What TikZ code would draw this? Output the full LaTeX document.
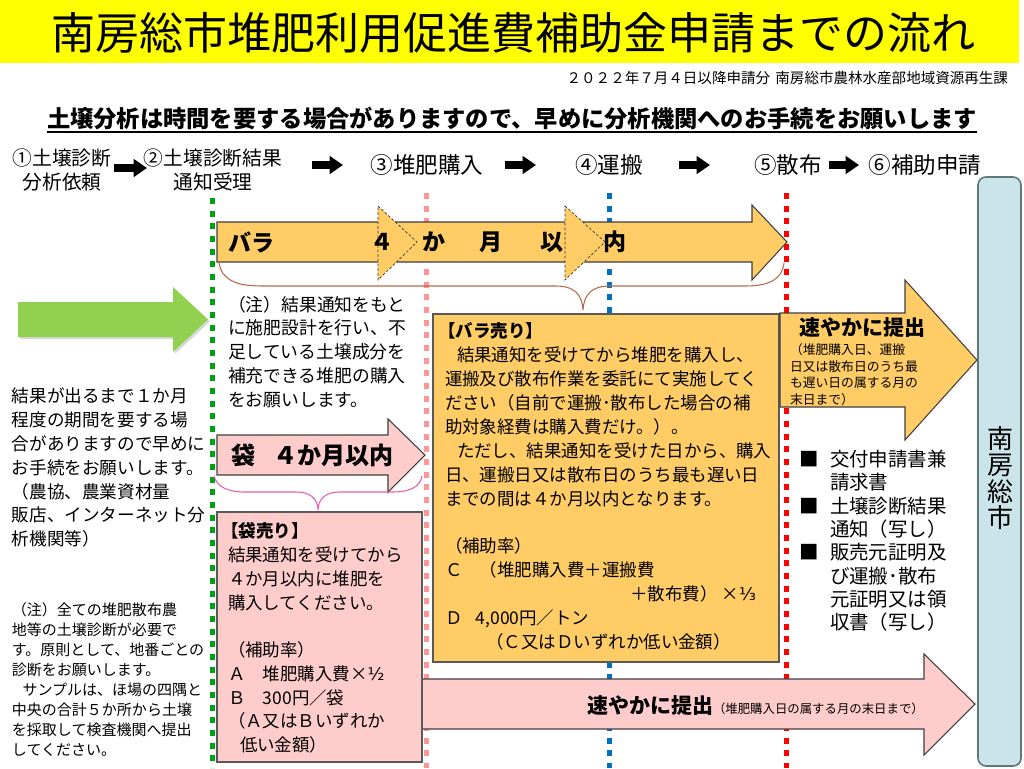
\documentclass[tikz,border=0pt]{standalone}
\usepackage{fontspec}
\setmainfont{Noto Sans CJK JP}
\newfontfamily\dvs{DejaVu Sans}
\usetikzlibrary{arrows.meta,shadows}
\definecolor{banner}{RGB}{255,255,0}
\definecolor{barafill}{RGB}{255,204,102}
\definecolor{fukurofill}{RGB}{255,204,204}
\definecolor{greenarr}{RGB}{146,208,80}
\definecolor{edge}{RGB}{64,64,64}
\definecolor{boxedge}{RGB}{89,89,89}
\definecolor{dotgreen}{RGB}{0,160,20}
\definecolor{dotpink}{RGB}{255,150,150}
\definecolor{dotblue}{RGB}{0,112,192}
\definecolor{dotred}{RGB}{255,0,0}
\definecolor{cityfill}{RGB}{203,228,233}
\definecolor{cityedge}{RGB}{95,120,120}
\definecolor{bracebrown}{RGB}{185,105,70}
\definecolor{bracepink}{RGB}{240,90,170}
\newcommand\fsz[2]{\fontsize{#1}{#2}\selectfont}
\begin{document}
\begin{tikzpicture}[x=0.75pt,y=-0.75pt,
  every node/.style={inner sep=0pt, outer sep=0pt},
  vline/.style={line width=3.75pt, dash pattern=on 4.5pt off 5pt},
  blockarrow/.style={draw=edge, line width=0.8pt, line join=miter},
  dashhead/.style={draw=black!80, line width=0.5pt, dash pattern=on 2pt off 1.5pt, fill=barafill},
  steparrow/.style={line width=6pt, -{Triangle[length=10pt,width=13pt]}},
  bracestyle/.style={line width=0.8pt},
  boxst/.style={draw=boxedge, line width=1pt},
  txt/.style={align=left, anchor=north west},
  arrtxt/.style={font=\bfseries\fsz{17.25pt}{20pt}},
  fukurotxt/.style={font=\bfseries\fsz{18pt}{21pt}},
  steptxt/.style={font=\fsz{16.9pt}{20pt}},
  steptwo/.style={font=\fsz{14.8pt}{18pt}, align=center},
]
\useasboundingbox (0,0) rectangle (1024,768);
\fill[white] (0,0) rectangle (1024,768);
% banner
\fill[banner] (0,0) rectangle (1019,63);
\node[font=\fsz{33pt}{40pt}] (title) at (513,33) {南房総市堆肥利用促進費補助金申請までの流れ};
\node[font=\fsz{10.9pt}{13pt}, anchor=east] (dept) at (1008,78) {２０２２年７月４日以降申請分\hspace{4pt}南房総市農林水産部地域資源再生課};
\node[font=\bfseries\fsz{17.45pt}{21pt}] (head) at (512,118) {土壌分析は時間を要する場合がありますので、早めに分析機関へのお手続をお願いします};
\draw[line width=1.5pt] ([yshift=-2pt]head.south west) -- ([yshift=-2pt]head.south east);

% steps
\node[steptwo] (s1) at (62,170) {①土壌診断\\分析依頼};
\node[steptwo] (s2) at (213,170) {②土壌診断結果\\通知受理};
\node[steptxt] (s3) at (427,165) {③堆肥購入};
\node[steptxt] (s4) at (609,165) {④運搬};
\node[steptxt] (s5) at (788,165) {⑤散布};
\node[steptxt] (s6) at (925,165) {⑥補助申請};
\coordinate (a1s) at (114,168); \coordinate (a1e) at (147,168);
\coordinate (a2s) at (312,165); \coordinate (a2e) at (343,165);
\coordinate (a3s) at (505,165); \coordinate (a3e) at (536,165);
\coordinate (a4s) at (679,165); \coordinate (a4e) at (710,165);
\coordinate (a5s) at (829,165); \coordinate (a5e) at (859,165);
\draw[steparrow] (a1s) -- (a1e);
\draw[steparrow] (a2s) -- (a2e);
\draw[steparrow] (a3s) -- (a3e);
\draw[steparrow] (a4s) -- (a4e);
\draw[steparrow] (a5s) -- (a5e);

% vertical timeline lines
\draw[vline, dotgreen] (212,198) -- (212,768);
\draw[vline, dotpink] (426,193) -- (426,768);
\draw[vline, dotblue] (609,193) -- (609,768);
\draw[vline, dotred] (786,193) -- (786,768);

% green arrow
\fill[greenarr, drop shadow={shadow xshift=1.5pt, shadow yshift=-1.5pt, opacity=0.3}]
  (18,302) -- (173,302) -- (173,287) -- (208,319.5) -- (173,352) -- (173,337) -- (18,337) -- cycle;

% bara arrow
\filldraw[blockarrow, fill=barafill] (217,222) -- (752,222) -- (752,205) -- (787,242) -- (752,280) -- (752,262) -- (217,262) -- cycle;
\filldraw[dashhead] (378,206) -- (417,242) -- (378,280) -- cycle;
\filldraw[dashhead] (565,206) -- (605,242) -- (565,280) -- cycle;
\node[arrtxt, anchor=west] (bara) at (228,242) {バラ};
\node[arrtxt] (bara4) at (382,242) {４};
\node[arrtxt] (baraka) at (434,242) {か};
\node[arrtxt] (baragetsu) at (491,242) {月};
\node[arrtxt] (barai) at (552,242) {以};
\node[arrtxt] (baranai) at (615,242) {内};
% brown brace
\draw[bracestyle, bracebrown] (219,263) .. controls (222,280) and (236,286) .. (262,286) -- (556,286)
  .. controls (574,286) and (582,294) .. (583,310) .. controls (584,294) and (592,286) .. (610,286)
  -- (745,286) .. controls (770,286) and (782,279) .. (784,263);

\node[txt, font=\fsz{13.35pt}{17.8pt}] (note1) at (228,296) {（注）結果通知をもと\\に施肥設計を行い、不\\足している土壌成分を\\補充できる堆肥の購入\\をお願いします。};

% fukuro arrow
\filldraw[blockarrow, fill=fukurofill] (217,435) -- (388,435) -- (388,419) -- (425,455) -- (388,492) -- (388,475) -- (217,475) -- cycle;
\node[fukurotxt] (fukuro) at (243,455) {袋};
\node[fukurotxt] (fukuro4) at (333,455) {４か月以内};
\draw[bracestyle, bracepink] (214,476) .. controls (217,487) and (228,492) .. (245,492) -- (296,492)
  .. controls (310,492) and (317,498) .. (318,509) .. controls (319,498) and (326,492) .. (340,492)
  -- (392,492) .. controls (410,492) and (420,487) .. (422,476);

% bottom pink arrow
\filldraw[blockarrow, fill=fukurofill] (420,679) -- (924,679) -- (924,654) -- (975,704) -- (924,755) -- (924,729) -- (420,729) -- cycle;
\node[anchor=base west] (quick2) at (587,713.5) {{\bfseries\fsz{15.75pt}{18pt}速やかに提出}{\fsz{9.3pt}{12pt}（堆肥購入日の属する月の末日まで）}};

% fukuro box
\draw[boxst, fill=fukurofill] (217,512) rectangle (422,762);
\node[txt, font=\fsz{13.1pt}{17.8pt}] (fukurotext) at (228,523) {\hspace*{-5pt}\textbf{【袋売り】}\\結果通知を受けてから\\４か月以内に堆肥を\\購入してください。\\[17.8pt]（補助率）\\Ａ　堆肥購入費×{\dvs ½}\\Ｂ　300円／袋\\（Ａ又はＢいずれか\\\hspace*{9pt}低い金額）};

% bara box
\draw[boxst, fill=barafill] (433,314) rectangle (779,662);
\node[txt, font=\fsz{13.1pt}{17.9pt}] (baratext) at (445,323) {\hspace*{-5pt}\textbf{【バラ売り】}\\\hspace*{9pt}結果通知を受けてから堆肥を購入し、\\運搬及び散布作業を委託にて実施してく\\ださい（自前で運搬･散布した場合の補\\助対象経費は購入費だけ。）。\\\hspace*{9pt}ただし、結果通知を受けた日から、購入\\日、運搬日又は散布日のうち最も遅い日\\までの間は４か月以内となります。\\[17.9pt]（補助率）\\Ｃ　（堆肥購入費＋運搬費\\\hspace*{139pt}＋散布費）\hspace{3pt}×{\dvs ⅓}\\Ｄ\hspace{10pt}4,000円／トン\\\hspace*{31pt}（Ｃ又はＤいずれか低い金額）};

% upper submit arrow
\filldraw[blockarrow, fill=barafill] (780,313) -- (905,313) -- (905,280) -- (977,360) -- (905,440) -- (905,407) -- (780,407) -- cycle;
\node[font=\bfseries\fsz{15.75pt}{18pt}] (quick1) at (862,328) {速やかに提出};
\node[txt, font=\fsz{9.6pt}{12.5pt}] (quick1note) at (790,343.6) {（堆肥購入日、運搬\\日又は散布日のうち最\\も遅い日の属する月の\\末日まで）};

% documents
\node[txt, font=\fsz{14.6pt}{17.5pt}] (docs) at (799,450) {\makebox[23.25pt][l]{■}交付申請書兼\\\hspace*{23.25pt}請求書\\\makebox[23.25pt][l]{■}土壌診断結果\\\hspace*{23.25pt}通知（写し）\\\makebox[23.25pt][l]{■}販売元証明及\\\hspace*{23.25pt}び運搬･散布\\\hspace*{23.25pt}元証明又は領\\\hspace*{23.25pt}収書（写し）};

% left texts
\node[txt, font=\fsz{13.2pt}{17.85pt}] (leftinfo) at (12,388) {結果が出るまで１か月\\程度の期間を要する場\\合がありますので早めに\\お手続をお願いします。\\（農協、農業資材量\\販店、インターネット分\\析機関等）};
\node[txt, font=\fsz{11.25pt}{15pt}] (leftnote) at (12,602.5) {（注）全ての堆肥散布農\\地等の土壌診断が必要で\\す。原則として、地番ごとの\\診断をお願いします。\\\hspace*{8pt}サンプルは、ほ場の四隅と\\中央の合計５か所から土壌\\を採取して検査機関へ提出\\してください。};

% city panel
\draw[draw=cityedge, line width=1.2pt, fill=cityfill, rounded corners=6pt] (978,177) rectangle (1021,766);
\node[font=\fsz{19.5pt}{19.9pt}, align=center] (city) at (1000,478) {南\\房\\総\\市};
\end{tikzpicture}
\end{document}
